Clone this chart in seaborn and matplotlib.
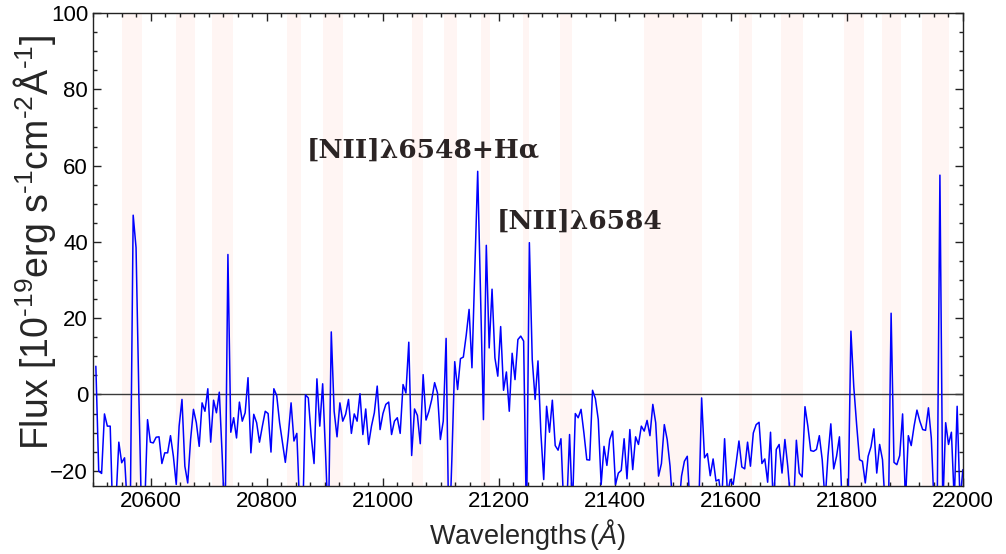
import numpy as np
import pandas as pd
import matplotlib
matplotlib.use("Agg")
import matplotlib.pyplot as plt
from matplotlib.ticker import MultipleLocator
import seaborn as sns

# spectrum sampling (linear grid, like CRVAL1 / CDELT1)
wave_start = 20505.0
wave_step = 4.95

flux = [
    7.4, -20.1, -20.7, -5.1, -8.3, -8.3, -35, -28, -12.5, -17.9,
    -16.6, -30, -30, 47.0, 38.5, -1, -35, -30, -6.6, -12.5,
    -12.7, -11.2, -11.1, -18.1, -15.3, -15.3, -10.8, -16.2, -23.6, -8.3,
    -1.3, -18.8, -23.2, -11.8, -3.9, -7.4, -13.6, -2.2, -4.4, 1.5,
    -12.5, -1.5, -4.8, 0.6, -16, -35, 36.7, -9.9, -6.1, -11.4,
    -2.0, -7.0, -4.8, 4.4, -15.3, -5.2, -7.4, -12.5, -8.3, -4.4,
    -5.0, -15.1, 1.5, -0.3, -7.4, -12.7, -17.8, -10.9, -2.2, -12.2,
    -10.2, -30, -35, -0.1, -0.9, -10.9, -18.1, 4.1, -8.3, 2.8,
    -15.3, -35, 16.4, -4.4, -11.1, -2.2, -7.0, -5.2, -1.3, -10.2,
    -5.1, -7.0, 0.2, -10.5, -3.8, -13.1, -8.3, -4.8, 2.2, -9.2,
    -5.0, -2.6, -2.0, -10.5, -7.0, -6.1, -10.2, 2.6, 0.4, 13.7,
    -16.0, -3.8, -5.5, -12.9, 5.2, -6.7, -4.4, -1.3, 3.1, 0.4,
    -11.8, -7.0, 14.7, -40, -17, 8.6, 1.3, 9.4, 9.8, 15.5,
    22.3, 7.0, 33, 58.5, 26.2, -6.6, 39.1, 12.2, 27.6, 9.6,
    4.8, 17.8, 1.1, 5.9, -4.4, 10.8, 3.9, 14.4, 15.3, 14.0,
    -35, 39.8, 9.2, -1.3, 8.8, -10, -22.3, -3.1, -9.9, -1.5,
    -13.4, -14.6, -11.6, -30, -30, -10.5, -30, -5.0, -6.1, -3.9,
    -10.1, -17.1, -17.2, 1.1, -1.1, -6.6, -23.6, -13.6, -18.6, -11.8,
    -9.6, -23.6, -20.6, -19.9, -11.6, -22.1, -9.2, -19.7, -11.1, -13.1,
    -8.3, -9.6, -6.8, -10.8, -2.6, -7.4, -21.4, -18.1, -7.9, -11.8,
    -18.8, -30, -35, -30, -21.4, -17.5, -16.2, -30, -35, -35,
    -30, -0.9, -16.6, -15.5, -21.3, -16.9, -22.7, -22.3, -28, -11.6,
    -26, -22.3, -23.6, -18.1, -12.2, -19.0, -19.5, -12.5, -18.8, -10.1,
    -7.9, -7.3, -18.1, -16.9, -23.0, -9.9, -30, -14.4, -13.1, -20.6,
    -11.8, -18.8, -28, -30, -12.0, -20.6, -21.6, -3.2, -8.3, -14.7,
    -14.9, -14.4, -10.8, -17.1, -28, -16.2, -7.7, -19.5, -16.2, -11.1,
    -30, -35, -30, 16.6, 2, -8, -17.1, -17.5, -23.2, -16.2,
    -13.7, -9.0, -20.6, -13.1, -17.1, -30, -35, 21.3, -17.8, -18.4,
    -16.0, -5.1, -28, -10.8, -13.4, -8.3, -4.1, -7.0, -9.2, -9.4,
    -3.5, -11.4, -30, -35, 57.5, -30, -7.4, -13.1, -9.9, -28,
    -3.1, -28, -19.7, -20,
]

# sky-line / masked regions (Angstrom)
band_lo = [20550, 20643, 20705, 20834, 20897, 21050, 21105, 21169,
           21241, 21305, 21450, 21614, 21686, 21795, 21860, 21929]
band_hi = [20584, 20676, 20741, 20859, 20931, 21069, 21128, 21184,
           21252, 21326, 21550, 21636, 21724, 21829, 21893, 21976]

line_labels = ["[NII]λ6548+Hα", "[NII]λ6584"]
label_x = [20869, 21197]
label_y = [62.0, 43.5]

wave = wave_start + wave_step * np.arange(len(flux))
spec = pd.DataFrame({"wave": wave, "flux": flux})

sns.set_style("ticks")
plt.rcParams['font.family'] = ['Liberation Sans', 'DejaVu Sans']
plt.rcParams['mathtext.fontset'] = 'custom'
plt.rcParams['mathtext.rm'] = 'Liberation Sans'
plt.rcParams['mathtext.it'] = 'Liberation Sans:italic'

fig = plt.figure(figsize=(10.06, 5.54), dpi=100)
ax = fig.add_axes([0.0924, 0.1227, 0.8648, 0.8538])

for lo, hi in zip(band_lo, band_hi):
    ax.axvspan(lo, hi, color='#fff5f3', lw=0, zorder=0)

ax.axhline(0, color='#3a3a3a', lw=1.0, zorder=1)
sns.lineplot(data=spec, x="wave", y="flux", ax=ax, color='#0000ff', lw=1.1,
             sort=False, estimator=None, zorder=2)

for txt, lx, ly in zip(line_labels, label_x, label_y):
    ax.text(lx, ly, txt, fontsize=19, fontweight='bold', color='#2b2424',
            family='DejaVu Serif')

ax.set_xlim(20500, 22000)
ax.set_ylim(-24, 100)
ax.xaxis.set_major_locator(MultipleLocator(200))
ax.xaxis.set_minor_locator(MultipleLocator(25))
ax.yaxis.set_major_locator(MultipleLocator(20))
ax.yaxis.set_minor_locator(MultipleLocator(5))
ax.tick_params(which='both', direction='in', top=True, right=True, width=1, colors='#222222')
ax.tick_params(which='major', length=6, labelsize=16, labelcolor='black')
ax.tick_params(which='minor', length=3)
for s in ax.spines.values():
    s.set_linewidth(1.0)
    s.set_color('#222222')

ax.set_xlabel(r"Wavelengths$\,(\mathit{Å})$", fontsize=19.5, labelpad=4)
ax.set_ylabel("Flux [10$^{\u201019}$erg s$^{\u20101}$cm$^{\u20102}$Å$^{\u20101}$]", fontsize=27)
ax.yaxis.set_label_coords(-0.04, 0.515)

fig.savefig("out.png", dpi=100)
